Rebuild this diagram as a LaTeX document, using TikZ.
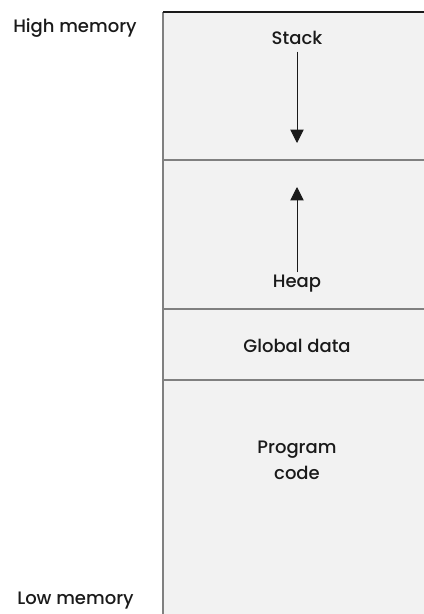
\documentclass[tikz,border=0pt]{standalone}
\usepackage{fontspec}
\setmainfont{Poppins}[UprightFont=* Medium]
\usetikzlibrary{arrows.meta}
\definecolor{boxgray}{HTML}{F2F2F2}
\definecolor{rulegray}{HTML}{808080}
\definecolor{inkgray}{HTML}{1A1A1A}

\begin{document}
\begin{tikzpicture}[
        x=0.75pt, y=-0.75pt,
        tag/.style={font=\fontsize{13.5}{15}\selectfont, text=inkgray, inner sep=0pt},
        divider/.style={rulegray, line width=1pt},
        growarrow/.style={-{Triangle[length=10pt, width=10pt]}, inkgray, line width=0.7pt, shorten <=2pt}
    ]
        \useasboundingbox (0,0) rectangle (424,614);

        % Memory block
        \fill[boxgray] (163,12) rectangle (424,614);
        \draw[divider] (163,614) -- (163,12);
        \draw[inkgray, line width=1pt] (163,12) -- (424,12);
        \draw[divider] (163,160) -- (424,160);
        \draw[divider] (163,309) -- (424,309);
        \draw[divider] (163,380) -- (424,380);

        % Side labels
        \node[tag, anchor=west] (high) at (13,28) {High memory};
        \node[tag, anchor=west] (low) at (17,601) {Low memory};

        % Region labels
        \node[tag] (stack) at (297,38) {Stack};
        \node[tag] (heap) at (297,284) {Heap};
        \node[tag] (global) at (297,346) {Global data};
        \node[tag, align=center, font=\fontsize{13.5}{19.5}\selectfont] (code) at (297,460) {Program\\code};

        % Growth directions
        \coordinate (stacktip) at (297,143);
        \coordinate (heaptip) at (297,187);
        \draw[growarrow, shorten <=5pt] (stack) -- (stacktip);
        \draw[growarrow] (heap) -- (heaptip);
    \end{tikzpicture}
\end{document}
